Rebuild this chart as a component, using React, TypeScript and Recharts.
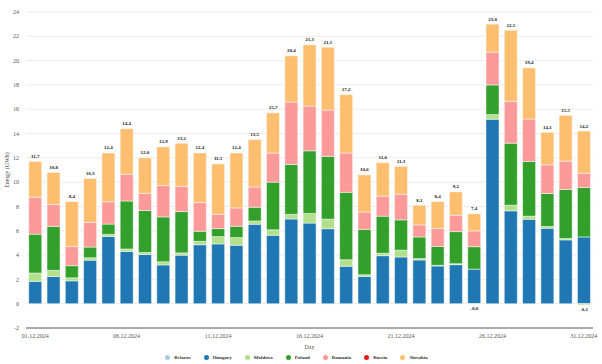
import React from 'react';
import { BarChart, Bar, XAxis, YAxis, CartesianGrid, Legend, LabelList } from 'recharts';

const days = [
  '01.12.2024', '02.12.2024', '03.12.2024', '04.12.2024', '05.12.2024', '06.12.2024', '07.12.2024',
  '08.12.2024', '09.12.2024', '10.12.2024', '11.12.2024', '12.12.2024', '13.12.2024', '14.12.2024',
  '15.12.2024', '16.12.2024', '17.12.2024', '18.12.2024', '19.12.2024', '20.12.2024', '21.12.2024',
  '22.12.2024', '23.12.2024', '24.12.2024', '25.12.2024', '26.12.2024', '27.12.2024', '28.12.2024',
  '29.12.2024', '30.12.2024', '31.12.2024',
];

const belarus = [0, 0, 0, 0, 0, 0, 0, 0, 0, 0, 0, 0, 0, 0, 0, 0, 0, 0, 0, 0, 0, 0, 0, 0, 0, 0, 0, 0, 0, 0, 0];
const hungary = [1.84, 2.24, 1.88, 3.58, 5.53, 4.3, 4.05, 3.19, 3.99, 4.85, 4.92, 4.81, 6.54, 5.63, 6.97, 6.63, 6.17, 3.08, 2.25, 3.95, 3.84, 3.6, 3.1, 3.21, 2.84, 15.18, 7.64, 6.95, 6.21, 5.25, 5.49];
const moldova = [0.68, 0.5, 0.25, 0.2, 0.17, 0.2, 0.16, 0.26, 0.19, 0.28, 0.6, 0.63, 0.27, 0.45, 0.38, 0.79, 0.78, 0.53, 0.13, 0.2, 0.56, 0.11, 0.06, 0.08, -0.03, 0.38, 0.46, 0.25, 0.14, 0.11, -0.1];
const poland = [3.2, 3.62, 1.0, 0.88, 0.85, 3.95, 3.46, 3.69, 3.4, 0.83, 0.66, 0.93, 1.13, 3.92, 4.11, 5.16, 5.17, 5.55, 3.73, 3.05, 2.5, 1.78, 1.55, 2.64, 1.85, 2.44, 5.11, 4.5, 2.72, 4.04, 4.07];
const romania = [3.04, 1.8, 1.57, 2.03, 1.84, 2.2, 1.41, 2.58, 2.07, 2.36, 1.18, 1.51, 1.66, 2.39, 5.13, 3.68, 3.81, 3.24, 1.43, 1.65, 2.11, 0.99, 1.48, 1.35, 1.3, 2.7, 3.44, 3.49, 2.36, 2.33, 1.18];
const russia = [0, 0, 0, 0, 0, 0, 0, 0, 0, 0, 0, 0, 0, 0, 0, 0, 0, 0, 0, 0, 0, 0, 0, 0, 0, 0, 0, 0, 0, 0, 0];
const slovakia = [2.94, 2.64, 3.7, 3.61, 4.01, 3.75, 2.92, 3.18, 3.55, 4.08, 4.14, 4.52, 3.9, 3.31, 3.81, 5.04, 5.17, 4.8, 3.06, 2.75, 2.29, 1.62, 2.21, 1.92, 1.41, 2.3, 5.85, 4.21, 2.67, 3.77, 3.46];

const yTicks = [-2, 0, 2, 4, 6, 8, 10, 12, 14, 16, 18, 20, 22, 24];

const series = [
  { key: 'Belarus', values: belarus, color: '#a6cee3' },
  { key: 'Hungary', values: hungary, color: '#1f78b4' },
  { key: 'Moldova', values: moldova, color: '#b2df8a' },
  { key: 'Poland', values: poland, color: '#33a02c' },
  { key: 'Romania', values: romania, color: '#fb9a99' },
  { key: 'Russia', values: russia, color: '#e31a1c' },
  { key: 'Slovakia', values: slovakia, color: '#fdbf6f' },
];

const data = days.map((day, i) => {
  const row: any = { day };
  series.forEach((s) => { row[s.key] = s.values[i]; });
  return row;
});

const posTotals = days.map((_, i) => series.reduce((a, s) => a + (s.values[i] > 0 ? s.values[i] : 0), 0));
const negTotals = days.map((_, i) => series.reduce((a, s) => a + (s.values[i] < 0 ? s.values[i] : 0), 0));

const fmt = (v: number) => v.toFixed(1).replace('.', ',');

const getBox = (props: any) => {
  const vb = props.viewBox || props;
  return { x: Number(vb.x), y: Number(vb.y), width: Number(vb.width), height: Number(vb.height) };
};

const TopLabel = (props: any) => {
  const { x, y, width, height } = getBox(props);
  const i = props.index;
  if (i == null || isNaN(x)) return null;
  const top = Math.min(y, y + height);
  return (
    <text x={x + width / 2} y={top - 3.5} textAnchor="middle" fontSize={5} fontWeight="bold" fill="#222">
      {fmt(posTotals[i])}
    </text>
  );
};

const BottomLabel = (props: any) => {
  const { x, y, width, height } = getBox(props);
  const i = props.index;
  if (i == null || isNaN(x) || negTotals[i] >= 0) return null;
  const bottom = Math.max(y, y + height);
  return (
    <text x={x + width / 2} y={bottom + 6} textAnchor="middle" fontSize={5} fontWeight="bold" fill="#222">
      {fmt(negTotals[i])}
    </text>
  );
};

const LegendContent = () => (
  <div style={{ display: 'flex', justifyContent: 'center', alignItems: 'center', height: 13, gap: 13 }}>
    {series.map((s) => (
      <div key={s.key} style={{ display: 'flex', alignItems: 'center' }}>
        <span style={{ display: 'inline-block', width: 5, height: 5, borderRadius: '50%', background: s.color, marginRight: 4 }} />
        <span style={{ fontSize: 5, fontWeight: 'bold', color: '#333', lineHeight: '13px' }}>{s.key}</span>
      </div>
    ))}
  </div>
);

const YLabel = (props: any) => {
  const vb = props.viewBox || {};
  const cy = vb.y + vb.height / 2;
  return (
    <text x={7} y={cy} transform={`rotate(-90, 7, ${cy})`} textAnchor="middle" dominantBaseline="central" fontSize={6} fill="#444">
      Energy (GWh)
    </text>
  );
};

export default function App() {
  return (
    <div style={{ position: 'absolute', left: 0, top: 0, width: 602, height: 364, fontFamily: "'Liberation Serif', 'DejaVu Serif', serif", background: '#fff' }}>
      <BarChart
        width={602}
        height={364}
        data={data}
        margin={{ top: 12, right: 9, bottom: 0, left: 0 }}
        stackOffset="sign"
        barCategoryGap="15%"
      >
        <CartesianGrid vertical={false} stroke="#ececec" strokeWidth={1} />
        <XAxis
          dataKey="day"
          interval={4}
          height={23}
          tickLine={false}
          tickSize={4}
          tickMargin={2}
          axisLine={{ stroke: '#aaa', strokeWidth: 2 }}
          tick={{ fontSize: 6, fill: '#555' }}
          label={{ value: 'Day', position: 'insideBottom', offset: 2, fontSize: 6, fill: '#555' }}
        />
        <YAxis
          domain={[-2, 24]}
          ticks={yTicks}
          width={26}
          axisLine={false}
          tickLine={false}
          tickSize={5}
          tickMargin={2}
          tick={{ fontSize: 6, fill: '#555' }}
          label={<YLabel />}
        />
        <Legend verticalAlign="bottom" height={13} content={<LegendContent />} />
        {series.map((s) => (
          <Bar
            key={s.key}
            dataKey={s.key}
            stackId="a"
            fill={s.color}
            stroke="#ffffff"
            strokeOpacity={0.6}
            strokeWidth={0.8}
            isAnimationActive={false}
          >
            {s.key === 'Slovakia' && <LabelList dataKey={s.key} content={<TopLabel />} />}
            {s.key === 'Moldova' && <LabelList dataKey={s.key} content={<BottomLabel />} />}
          </Bar>
        ))}
      </BarChart>
    </div>
  );
}
